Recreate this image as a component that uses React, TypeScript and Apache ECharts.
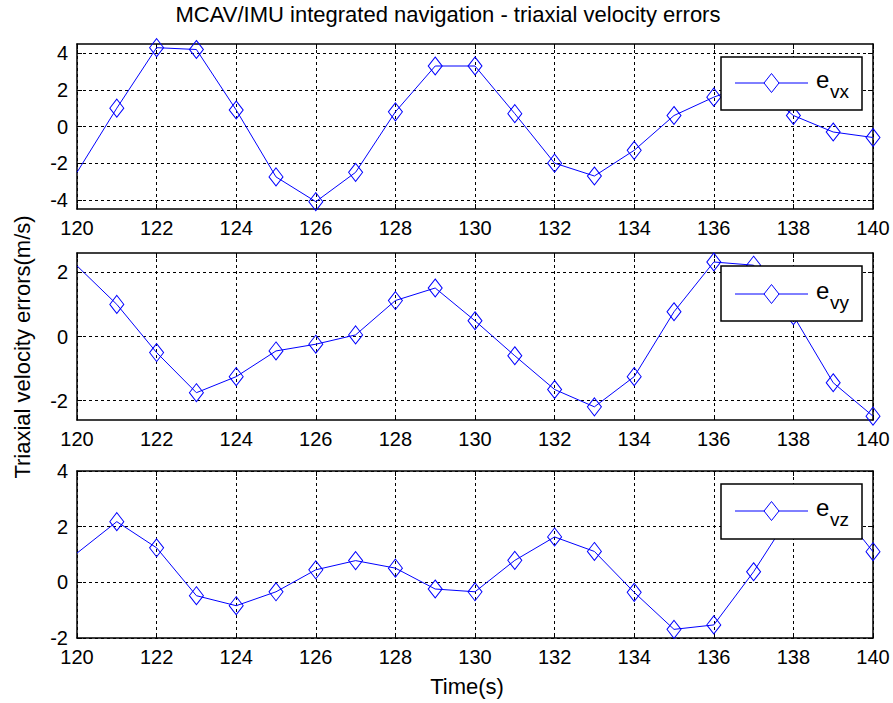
import React, { useEffect, useRef } from "react";
import * as echarts from "echarts";

// ---- data ----
const timeS = [120, 121, 122, 123, 124, 125, 126, 127, 128, 129, 130, 131, 132, 133, 134, 135, 136, 137, 138, 139, 140];
const evx = [-2.5, 1.0, 4.3, 4.2, 0.9, -2.75, -4.1, -2.5, 0.8, 3.3, 3.3, 0.7, -2.0, -2.7, -1.3, 0.6, 1.6, 2.4, 0.6, -0.3, -0.6];
const evy = [2.2, 1.0, -0.5, -1.75, -1.25, -0.45, -0.24, 0.05, 1.12, 1.51, 0.49, -0.6, -1.65, -2.19, -1.25, 0.77, 2.32, 2.22, 0.65, -1.44, -2.48];
const evz = [1.05, 2.18, 1.24, -0.48, -0.84, -0.34, 0.45, 0.78, 0.51, -0.24, -0.34, 0.79, 1.63, 1.11, -0.36, -1.69, -1.53, 0.38, 2.6, 2.9, 1.1];

const xRange = [120, 140];
const xStep = 2;
const yTicksX = [-4, -2, 0, 2, 4];
const yTicksY = [-2, 0, 2];
const yTicksZ = [-2, 0, 2, 4];
const yLimX = [-4.5, 4.5];
const yLimY = [-2.6, 2.6];
const yLimZ = [-2, 4];
const seriesNames = ["evx", "evy", "evz"];
const legendSubs = ["vx", "vy", "vz"];

const titleText = "MCAV/IMU integrated navigation - triaxial velocity errors";
const yName = "Triaxial velocity errors(m/s)";
const xName = "Time(s)";

const FONT = "'Liberation Sans', Arial, Helvetica, sans-serif";
const BLUE = "#0000ff";

export default function App() {
  const ref = useRef<HTMLDivElement>(null);

  useEffect(() => {
    if (!ref.current) return;
    const chart = echarts.init(ref.current, null, { renderer: "svg" });

    const grids = [
      { left: 77, top: 44, width: 796, height: 165 },
      { left: 77, top: 253, width: 796, height: 167 },
      { left: 77, top: 471, width: 796, height: 167 },
    ];
    const yLims = [yLimX, yLimY, yLimZ];
    const yTicks = [yTicksX, yTicksY, yTicksZ];
    const values = [evx, evy, evz];

    const axisLineStyle = { color: "#000", width: 1.5 };
    const tickStyle = { color: "#000", width: 1 };
    const splitStyle = { color: "#000", width: 1, type: [3, 3] as any };

    const xAxes: any[] = [];
    const yAxes: any[] = [];
    grids.forEach((_, i) => {
      xAxes.push({
        type: "value",
        gridIndex: i,
        min: xRange[0],
        max: xRange[1],
        interval: xStep,
        axisLine: { show: true, onZero: false, lineStyle: axisLineStyle },
        axisTick: { show: true, inside: true, length: 5, lineStyle: tickStyle },
        axisLabel: { show: true, color: "#000", fontSize: 20, fontFamily: FONT, margin: 9 },
        splitLine: { show: true, lineStyle: splitStyle },
      });
      yAxes.push({
        type: "value",
        gridIndex: i,
        min: yLims[i][0],
        max: yLims[i][1],
        axisLine: { show: true, onZero: false, lineStyle: axisLineStyle },
        axisTick: { show: true, inside: true, length: 5, lineStyle: tickStyle, customValues: yTicks[i] },
        axisLabel: { show: true, color: "#000", fontSize: 20, fontFamily: FONT, margin: 9, customValues: yTicks[i] },
        splitLine: { show: true, lineStyle: splitStyle },
      });
    });
    grids.forEach((_, i) => {
      xAxes.push({
        type: "value",
        gridIndex: i,
        position: "top",
        min: xRange[0],
        max: xRange[1],
        interval: xStep,
        axisLine: { show: true, onZero: false, lineStyle: axisLineStyle },
        axisTick: { show: true, inside: true, length: 5, lineStyle: tickStyle },
        axisLabel: { show: false },
        splitLine: { show: false },
      });
      yAxes.push({
        type: "value",
        gridIndex: i,
        position: "right",
        min: yLims[i][0],
        max: yLims[i][1],
        axisLine: { show: true, onZero: false, lineStyle: axisLineStyle },
        axisTick: { show: true, inside: true, length: 5, lineStyle: tickStyle, customValues: yTicks[i] },
        axisLabel: { show: false, customValues: yTicks[i] },
        splitLine: { show: false },
      });
    });

    const series = values.map((v, i) => ({
      type: "line",
      name: seriesNames[i],
      xAxisIndex: i,
      yAxisIndex: i,
      data: timeS.map((t, k) => (k === 0 ? { value: [t, v[k]], symbol: "none" } : [t, v[k]])),
      symbol: "diamond",
      symbolSize: [14, 18],
      showAllSymbol: true,
      clip: true,
      silent: true,
      z: 3,
      itemStyle: { color: "rgba(0,0,0,0)", borderColor: BLUE, borderWidth: 1 },
      lineStyle: { color: BLUE, width: 1 },
      emphasis: { disabled: true },
    }));

    const legendBoxes = [
      { y: 57, h: 53, ly: 83 },
      { y: 266, h: 55, ly: 294 },
      { y: 484, h: 55, ly: 511 },
    ];
    const Z = 200;
    const legendGraphics: any[] = [];
    legendBoxes.forEach((b, i) => {
      legendGraphics.push(
        { type: "rect", z: Z, shape: { x: 721, y: b.y, width: 141, height: b.h }, style: { fill: "#fff", stroke: "#000", lineWidth: 1.5 } },
        { type: "line", z: Z + 1, shape: { x1: 735, y1: b.ly, x2: 808, y2: b.ly }, style: { stroke: BLUE, lineWidth: 1 } },
        {
          type: "polygon",
          z: Z + 2,
          shape: { points: [[771.5, b.ly - 9.5], [779, b.ly], [771.5, b.ly + 9.5], [764, b.ly]] },
          style: { fill: "#fff", stroke: BLUE, lineWidth: 1 },
        },
        { type: "text", z: Z + 2, x: 816, y: b.ly - 4, style: { text: "e", fontSize: 24, fontFamily: FONT, fill: "#000", verticalAlign: "middle", align: "left" } },
        { type: "text", z: Z + 2, x: 830, y: b.ly + 8, style: { text: legendSubs[i], fontSize: 19, fontFamily: FONT, fill: "#000", verticalAlign: "middle", align: "left" } }
      );
    });

    chart.setOption({
      animation: false,
      backgroundColor: "#fff",
      grid: grids,
      xAxis: xAxes,
      yAxis: yAxes,
      series,
      graphic: [
        ...legendGraphics,
        { type: "text", x: 448, y: 14, style: { text: titleText, fontSize: 22, fontFamily: FONT, fill: "#000", align: "center", verticalAlign: "middle" } },
        { type: "text", x: 22, y: 347, rotation: Math.PI / 2, style: { text: yName, fontSize: 22, fontFamily: FONT, fill: "#000", align: "center", verticalAlign: "middle" } },
        { type: "text", x: 467, y: 686, style: { text: xName, fontSize: 22, fontFamily: FONT, fill: "#000", align: "center", verticalAlign: "middle" } },
      ],
    });

    return () => chart.dispose();
  }, []);

  return <div ref={ref} style={{ position: "fixed", left: 0, top: 0, width: 893, height: 703, background: "#fff" }} />;
}
